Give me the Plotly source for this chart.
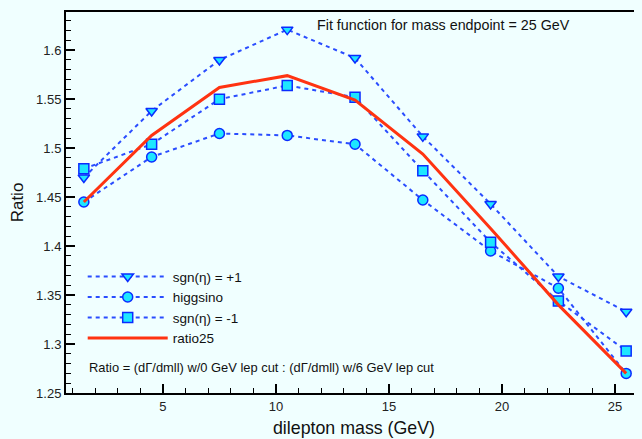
import plotly.graph_objects as go

mass = [1.5, 4.5, 7.5, 10.5, 13.5, 16.5, 19.5, 22.5, 25.5]
sgn_plus = [1.470, 1.538, 1.590, 1.621, 1.592, 1.512, 1.443, 1.369, 1.333]
higgsino = [1.445, 1.491, 1.515, 1.513, 1.504, 1.447, 1.395, 1.357, 1.270]
sgn_minus = [1.479, 1.504, 1.550, 1.564, 1.552, 1.477, 1.404, 1.344, 1.293]
ratio25 = [1.445, 1.513, 1.562, 1.574, 1.549, 1.494, 1.418, 1.340, 1.270]

blue = "#2a4dff"
fill = "#1ee6ff"
edge = "#0a2cff"
bg = "#f0ffff"
font = "Liberation Sans, Arial, sans-serif"

fig = go.Figure()
series = [("sgn(η) = +1", sgn_plus, "triangle-down"),
          ("higgsino", higgsino, "circle"),
          ("sgn(η) = -1", sgn_minus, "square")]
for name, vals, sym in series:
    fig.add_trace(go.Scatter(
        x=mass, y=vals, name=name, mode="lines+markers",
        line=dict(color=blue, width=2, dash="4px,4px"),
        marker=dict(symbol=sym, size=10, color=fill, line=dict(color=edge, width=1.5))))

fig.add_trace(go.Scatter(x=mass, y=ratio25, name="ratio25", mode="lines",
                         line=dict(color="#ff3311", width=3)))

axis_common = dict(showline=True, linecolor="black", linewidth=2,
                   ticks="inside", ticklen=9, tickwidth=2, tickcolor="black",
                   showgrid=False, zeroline=False, automargin=False,
                   tickfont=dict(size=13, color="#222"))

fig.update_xaxes(range=[0.71, 26.2], dtick=5, tick0=0, mirror=True,
                 minor=dict(dtick=1, ticks="inside", ticklen=5, tickcolor="black", tickwidth=1),
                 title=dict(text="dilepton mass (GeV)", font=dict(size=17.8, color="#111"), standoff=9),
                 **axis_common)
fig.update_yaxes(range=[1.25, 1.639], dtick=0.05, tick0=1.25, mirror=False,
                 minor=dict(dtick=0.01, ticks="inside", ticklen=5, tickcolor="black", tickwidth=1),
                 title=dict(text="Ratio", font=dict(size=17, color="#111"), standoff=8),
                 **axis_common)

fig.add_annotation(text="Fit function for mass endpoint = 25 GeV", xref="paper", yref="paper",
                   x=0.655, y=0.966, xanchor="center", yanchor="middle",
                   showarrow=False, font=dict(size=14.3, color="#111"))
fig.add_annotation(text="Ratio = (dΓ/dmll) w/0 GeV lep cut : (dΓ/dmll) w/6 GeV lep cut",
                   xref="paper", yref="paper", x=0.036, y=0.068, xanchor="left", yanchor="middle",
                   showarrow=False, font=dict(size=12.9, color="#111"))

# page body has an 8px margin, so the margins are shifted by 8px
fig.update_layout(
    width=642, height=439,
    margin=dict(l=58, r=8, t=4, b=54),
    paper_bgcolor=bg, plot_bgcolor=bg,
    font=dict(family=font, color="#111"),
    legend=dict(x=0.029, y=0.346, xanchor="left", yanchor="top", itemwidth=80,
                bgcolor="rgba(0,0,0,0)", font=dict(size=13.5), tracegroupgap=0),
)

fig.write_html("out.html", post_script="document.body.style.background = '%s';" % bg)
